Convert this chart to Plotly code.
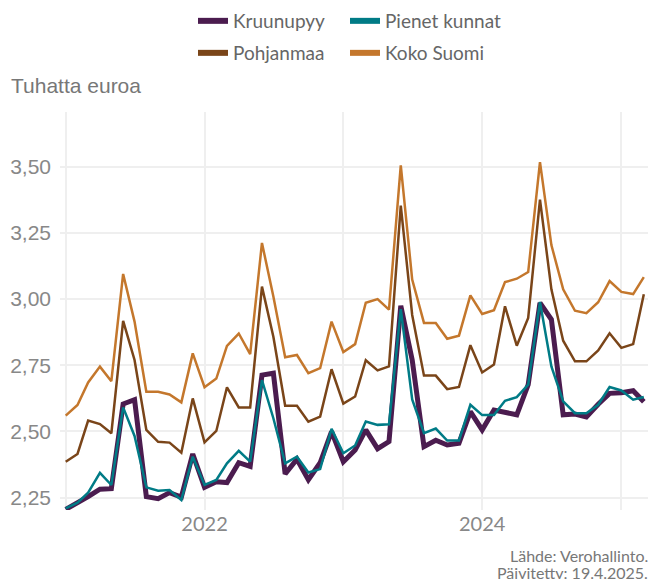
import pandas as pd
import plotly.graph_objects as go

# monthly data, Jan 2021 - Mar 2025 (thousand euros)
months = pd.date_range("2021-01-01", "2025-03-01", freq="MS")

kruunupyy = [2.206, 2.229, 2.254, 2.282, 2.284, 2.604, 2.620, 2.254, 2.246, 2.269, 2.252, 2.415,
             2.289, 2.310, 2.307, 2.382, 2.368, 2.713, 2.720, 2.340, 2.395, 2.318, 2.382, 2.500,
             2.386, 2.430, 2.506, 2.435, 2.462, 2.975, 2.770, 2.443, 2.467, 2.449, 2.456, 2.575,
             2.506, 2.581, 2.572, 2.563, 2.677, 2.986, 2.923, 2.563, 2.566, 2.555, 2.603, 2.644,
             2.646, 2.654, 2.612]
pienet_kunnat = [2.210, 2.231, 2.269, 2.344, 2.298, 2.591, 2.483, 2.289, 2.276, 2.279, 2.241, 2.405,
                 2.298, 2.317, 2.380, 2.427, 2.386, 2.694, 2.550, 2.380, 2.405, 2.345, 2.358, 2.510,
                 2.418, 2.447, 2.538, 2.525, 2.527, 2.962, 2.621, 2.494, 2.511, 2.466, 2.466, 2.601,
                 2.562, 2.562, 2.616, 2.630, 2.677, 2.989, 2.746, 2.614, 2.569, 2.569, 2.601, 2.668,
                 2.655, 2.620, 2.630]
pohjanmaa = [2.386, 2.415, 2.541, 2.528, 2.493, 2.918, 2.770, 2.506, 2.461, 2.458, 2.420, 2.625,
             2.459, 2.502, 2.667, 2.591, 2.591, 3.047, 2.858, 2.597, 2.597, 2.537, 2.556, 2.735,
             2.605, 2.632, 2.769, 2.731, 2.746, 3.353, 2.940, 2.711, 2.711, 2.660, 2.668, 2.826,
             2.723, 2.753, 2.973, 2.824, 2.929, 3.376, 3.037, 2.843, 2.765, 2.765, 2.806, 2.871,
             2.816, 2.830, 3.018]
koko_suomi = [2.560, 2.600, 2.685, 2.745, 2.690, 3.095, 2.915, 2.650, 2.650, 2.640, 2.610, 2.795,
              2.667, 2.700, 2.823, 2.870, 2.792, 3.212, 3.010, 2.780, 2.789, 2.720, 2.739, 2.915,
              2.800, 2.830, 2.986, 3.000, 2.960, 3.505, 3.074, 2.910, 2.910, 2.850, 2.862, 3.014,
              2.944, 2.958, 3.064, 3.077, 3.102, 3.517, 3.204, 3.037, 2.956, 2.947, 2.988, 3.068,
              3.027, 3.019, 3.083]

series_names = ["Kruunupyy", "Pienet kunnat", "Pohjanmaa", "Koko Suomi"]
series_values = [kruunupyy, pienet_kunnat, pohjanmaa, koko_suomi]
colors = ["#4b1c4f", "#007b86", "#7a4519", "#c4772c"]
widths = [5, 2.5, 2.5, 2.5]

year_ticks = ["2021-01-01", "2022-01-01", "2023-01-01", "2024-01-01", "2025-01-01"]
year_labels = ["", "2022", "", "2024", ""]

source_lines = ["Lähde: Verohallinto.", "Päivitetty: 19.4.2025."]

L, R, T, B = 60, 4, 112, 69
PLOT_W = 652 - L - R
PLOT_H = 579 - T - B

fig = go.Figure()
for name, vals, col, w in zip(series_names, series_values, colors, widths):
    fig.add_trace(go.Scatter(x=months, y=vals, mode="lines", name=name,
                             line=dict(color=col, width=w), showlegend=False))

# legend laid out as a 2x2 grid, one small legend per entry
legend_ids = ["legend", "legend2", "legend3", "legend4"]
legend_pos = [(193, 2), (345, 2), (193, 34), (345, 34)]  # left / top in pixels
legend_layout = {}
for name, col, lg, (lx, ly) in zip(series_names, colors, legend_ids, legend_pos):
    fig.add_trace(go.Scatter(x=[None], y=[None], mode="lines", name=name,
                             line=dict(color=col, width=6), legend=lg))
    legend_layout[lg] = dict(orientation="h", xanchor="left", yanchor="top",
                             x=(lx - L) / PLOT_W, y=1 + (T - ly) / PLOT_H,
                             font=dict(family="Lato", size=19, color="#666666"),
                             itemwidth=30, bgcolor="rgba(0,0,0,0)")

annotations = [
    dict(text="Tuhatta euroa", xref="paper", yref="paper", x=-51 / PLOT_W, y=1.0 + 27 / PLOT_H,
         xanchor="left", yanchor="middle", showarrow=False,
         font=dict(family="Liberation Sans", size=21, color="#777777")),
]
# source / update note, two lines in the bottom right corner
for txt, yc in zip(source_lines, [555, 572]):
    annotations.append(dict(text=txt, xref="paper", yref="paper",
                            x=1.0 + 2 / PLOT_W, y=-(yc - (T + PLOT_H)) / PLOT_H,
                            xanchor="right", yanchor="middle", showarrow=False,
                            font=dict(family="Lato", size=16, color="#777777")))

fig.update_layout(
    width=652, height=579,
    margin=dict(l=L, r=R, t=T, b=B, autoexpand=False),
    plot_bgcolor="white", paper_bgcolor="white",
    separators=", ",
    showlegend=True,
    xaxis=dict(range=["2020-12-17", "2025-03-12"], tickvals=year_ticks, ticktext=year_labels,
               showgrid=True, gridcolor="#efefef", gridwidth=2, zeroline=False, showline=False,
               ticks="", tickfont=dict(family="Lato", size=20, color="#888888")),
    yaxis=dict(range=[2.2035, 3.7066], tickvals=[2.25, 2.5, 2.75, 3.0, 3.25, 3.5],
               tickformat=".2f", showgrid=True, gridcolor="#efefef", gridwidth=2,
               zeroline=False, showline=False, ticks="", ticklabelstandoff=8,
               tickfont=dict(family="Liberation Sans", size=21, color="#888888")),
    annotations=annotations,
    **legend_layout,
)

fig.write_html("out.html", config={"displayModeBar": False},
               post_script="document.body.style.margin='0';")
